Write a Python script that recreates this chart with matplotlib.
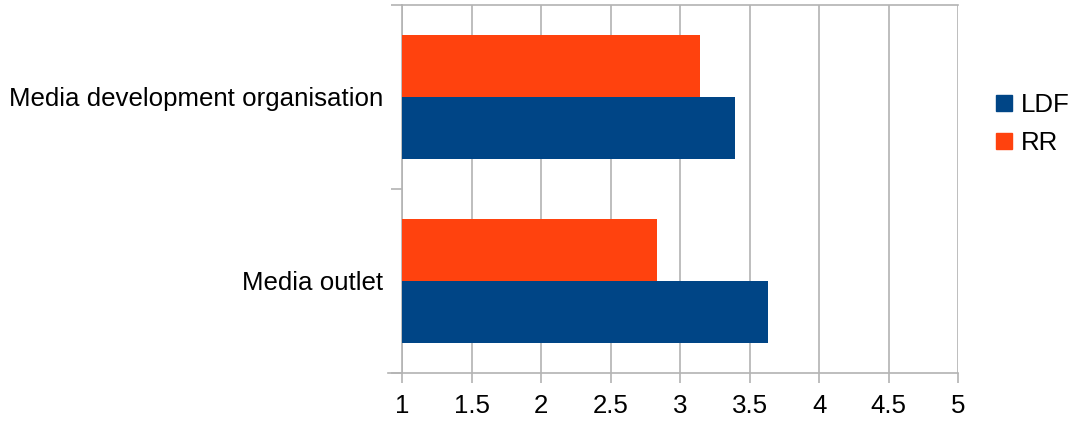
import numpy as np
import matplotlib.pyplot as plt
from matplotlib.lines import Line2D

plt.rcParams['font.family'] = ['Liberation Sans', 'DejaVu Sans']

# scores per respondent type
categories = ['Media outlet', 'Media development organisation']
ldf = [3.63, 3.39]
rr = [2.83, 3.14]
xticks = [1, 1.5, 2, 2.5, 3, 3.5, 4, 4.5, 5]

c_ldf = '#004586'
c_rr = '#ff420e'
grid_c = '#b3b3b3'
fs = 18.6

W, H = 1070, 423
fig = plt.figure(figsize=(W / 100, H / 100), dpi=100)
ax = fig.add_axes([402.3 / W, (H - 372.7) / H, 556 / W, 367.7 / H])

y = np.arange(len(categories))
h = 0.337
ax.barh(y - h / 2, ldf, height=h, left=0, color=c_ldf, zorder=3)
ax.barh(y + h / 2, rr, height=h, left=0, color=c_rr, zorder=3)

ax.set_xlim(1, 5)
ax.set_ylim(-0.5, len(categories) - 0.5)
ax.set_xticks(xticks)
ax.set_xticklabels([f'{t:g}' for t in xticks], fontsize=fs)
ax.xaxis.grid(True, color=grid_c, linewidth=1.2, zorder=0)

# category labels in the middle, ticks on the boundaries
ax.set_yticks([-0.5, 0.5, 1.5])
ax.set_yticklabels([])
ax.set_yticks(y, minor=True)
ax.set_yticklabels(categories, minor=True, fontsize=fs)
ax.tick_params(axis='y', which='minor', length=0, pad=14)
ax.tick_params(axis='y', which='major', length=8, width=1.2, color=grid_c)
ax.tick_params(axis='x', length=7.5, width=1.2, color=grid_c, pad=8)

for s in ax.spines.values():
    s.set_color(grid_c)
    s.set_linewidth(1.2)
ax.spines['right'].set_visible(False)
ax.spines['bottom'].set_bounds(0.9, 5)

handles = [Line2D([], [], marker='s', linestyle='', markersize=11.5, color=c_ldf),
           Line2D([], [], marker='s', linestyle='', markersize=11.5, color=c_rr)]
fig.legend(handles, ['LDF', 'RR'], loc='center left',
           bbox_to_anchor=(994 / W, 1 - 124 / H), frameon=False, fontsize=fs,
           handlelength=0.8, handletextpad=0.25, labelspacing=0.55,
           borderpad=0, borderaxespad=0)

fig.savefig('out.png', dpi=100)
